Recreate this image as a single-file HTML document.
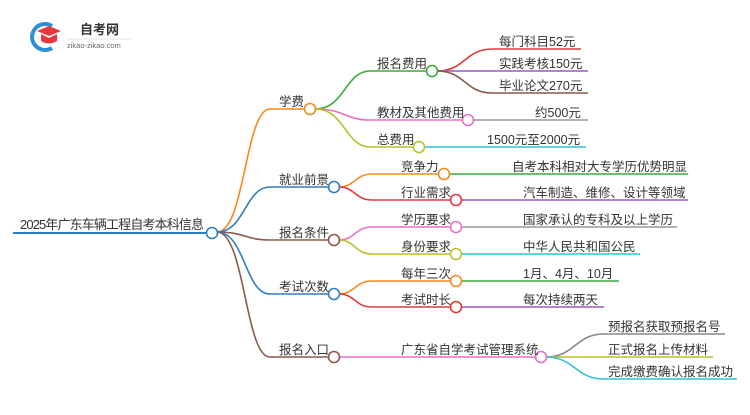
<!DOCTYPE html>
<html><head><meta charset="utf-8"><style>
body{margin:0;background:#fff;}
svg text{font-family:"Liberation Sans","Noto Sans CJK SC",sans-serif;font-size:12.5px;fill:#333;}
</style></head><body>
<svg width="750" height="410" viewBox="0 0 750 410" xmlns="http://www.w3.org/2000/svg">
<!-- logo -->
<g>
<path d="M52 26 A13 13 0 1 0 52 48" fill="none" stroke="#2b8fd6" stroke-width="4"/>
<path d="M37 31 L49 26 L61 31 L49 36 Z" fill="#e8383d"/>
<path d="M41 34 L41 41 Q49 46 57 41 L57 34 L49 38 Z" fill="#e8383d"/>
<text x="80" y="34" style="font-size:13px;font-weight:bold;fill:#333">自考网</text>
<line x1="66" y1="39" x2="131" y2="39" stroke="#ddd" stroke-width="0.8"/>
<text x="67" y="48" style="font-size:7.5px;fill:#666">zikao-zikao.com</text>
</g>
<g fill="none" stroke-width="1.6">
<!-- root -->
<line x1="13" y1="233" x2="207" y2="233" stroke="#2e7fc1" stroke-width="2"/>
<!-- level1 -->
<path d="M217 232 C245 232 245 109 270 109 L305 109" stroke="#f5891f"/>
<path d="M217 232 C245 232 245 187 270 187 L329 187" stroke="#2e7fc1"/>
<path d="M217 232 C245 232 245 240 270 240 L329 240" stroke="#8a5a4a"/>
<path d="M217 232 C245 232 245 294 270 294 L329 294" stroke="#2e7fc1"/>
<path d="M217 232 C245 232 245 357 270 357 L329 357" stroke="#8a5a4a"/>
<!-- 学费 children -->
<path d="M315 109 C345 109 345 71 370 71 L427 71" stroke="#3aab3a"/>
<path d="M315 109 C345 109 345 120 370 120 L463 120" stroke="#e870c8"/>
<path d="M315 109 C345 109 345 147 370 147 L414 147" stroke="#b8c02c"/>
<path d="M437 71 C465 71 465 49 492 49 L581 49" stroke="#e03a3a"/>
<path d="M437 71 L588 71" stroke="#9b59c6"/>
<path d="M437 71 C465 71 465 93 492 93 L588 93" stroke="#8a5a4a"/>
<path d="M473 120 L588 120" stroke="#999"/>
<path d="M424 147 L586 147" stroke="#2ec4d8"/>
<!-- 就业前景 -->
<path d="M339 187 C355 187 355 174 372 174 L439 174" stroke="#f5891f"/>
<path d="M339 187 C355 187 355 200 372 200 L451 200" stroke="#e03a3a"/>
<path d="M449 174 L688 174" stroke="#3aab3a"/>
<path d="M461 200 L688 200" stroke="#9b59c6"/>
<!-- 报名条件 -->
<path d="M339 240 C355 240 355 227 372 227 L451 227" stroke="#e870c8"/>
<path d="M339 240 C355 240 355 254 372 254 L451 254" stroke="#b8c02c"/>
<path d="M461 227 L677 227" stroke="#999"/>
<path d="M461 254 L640 254" stroke="#2ec4d8"/>
<!-- 考试次数 -->
<path d="M339 294 C355 294 355 281 372 281 L451 281" stroke="#f5891f"/>
<path d="M339 294 C355 294 355 307 372 307 L451 307" stroke="#e03a3a"/>
<path d="M461 281 L619 281" stroke="#3aab3a"/>
<path d="M461 307 L604 307" stroke="#9b59c6"/>
<!-- 报名入口 -->
<path d="M339 357 L536 357" stroke="#e870c8"/>
<path d="M546 357 C575 357 575 334 604 334 L725 334" stroke="#888"/>
<path d="M546 357 L713 357" stroke="#b8c02c"/>
<path d="M546 357 C575 357 575 379 604 379 L737 379" stroke="#2ec4d8"/>
</g>
<g fill="#fff" stroke-width="1.6">
<circle cx="212" cy="233" r="5.5" stroke="#2e7fc1"/>
<circle cx="310" cy="109" r="5.5" stroke="#f5891f"/>
<circle cx="334" cy="187" r="5.5" stroke="#2e7fc1"/>
<circle cx="334" cy="240" r="5.5" stroke="#8a5a4a"/>
<circle cx="334" cy="294" r="5.5" stroke="#2e7fc1"/>
<circle cx="334" cy="357" r="5.5" stroke="#8a5a4a"/>
<circle cx="432" cy="71" r="5.5" stroke="#3aab3a"/>
<circle cx="468" cy="120" r="5.5" stroke="#e870c8"/>
<circle cx="419" cy="147" r="5.5" stroke="#b8c02c"/>
<circle cx="444" cy="174" r="5.5" stroke="#f5891f"/>
<circle cx="456" cy="200" r="5.5" stroke="#e03a3a"/>
<circle cx="456" cy="227" r="5.5" stroke="#e870c8"/>
<circle cx="456" cy="254" r="5.5" stroke="#b8c02c"/>
<circle cx="456" cy="281" r="5.5" stroke="#f5891f"/>
<circle cx="456" cy="307" r="5.5" stroke="#e03a3a"/>
<circle cx="541" cy="357" r="5.5" stroke="#e870c8"/>
</g>
<g>
<text x="20" y="229" textLength="184" style="font-size:13px">2025年广东车辆工程自考本科信息</text>
<text x="279" y="106">学费</text>
<text x="279" y="184">就业前景</text>
<text x="279" y="237">报名条件</text>
<text x="279" y="291">考试次数</text>
<text x="279" y="354">报名入口</text>
<text x="377" y="68">报名费用</text>
<text x="377" y="117">教材及其他费用</text>
<text x="377" y="144">总费用</text>
<text x="499" y="46">每门科目52元</text>
<text x="499" y="68">实践考核150元</text>
<text x="499" y="90">毕业论文270元</text>
<text x="535" y="117">约500元</text>
<text x="487" y="144">1500元至2000元</text>
<text x="401" y="171">竞争力</text>
<text x="401" y="197">行业需求</text>
<text x="512" y="171">自考本科相对大专学历优势明显</text>
<text x="523" y="197">汽车制造、维修、设计等领域</text>
<text x="401" y="224">学历要求</text>
<text x="401" y="251">身份要求</text>
<text x="523" y="224">国家承认的专科及以上学历</text>
<text x="523" y="251">中华人民共和国公民</text>
<text x="401" y="278">每年三次</text>
<text x="401" y="304">考试时长</text>
<text x="523" y="278">1月、4月、10月</text>
<text x="523" y="304">每次持续两天</text>
<text x="401" y="354">广东省自学考试管理系统</text>
<text x="608" y="331">预报名获取预报名号</text>
<text x="608" y="354">正式报名上传材料</text>
<text x="608" y="376">完成缴费确认报名成功</text>
</g>
</svg>
</body></html>
